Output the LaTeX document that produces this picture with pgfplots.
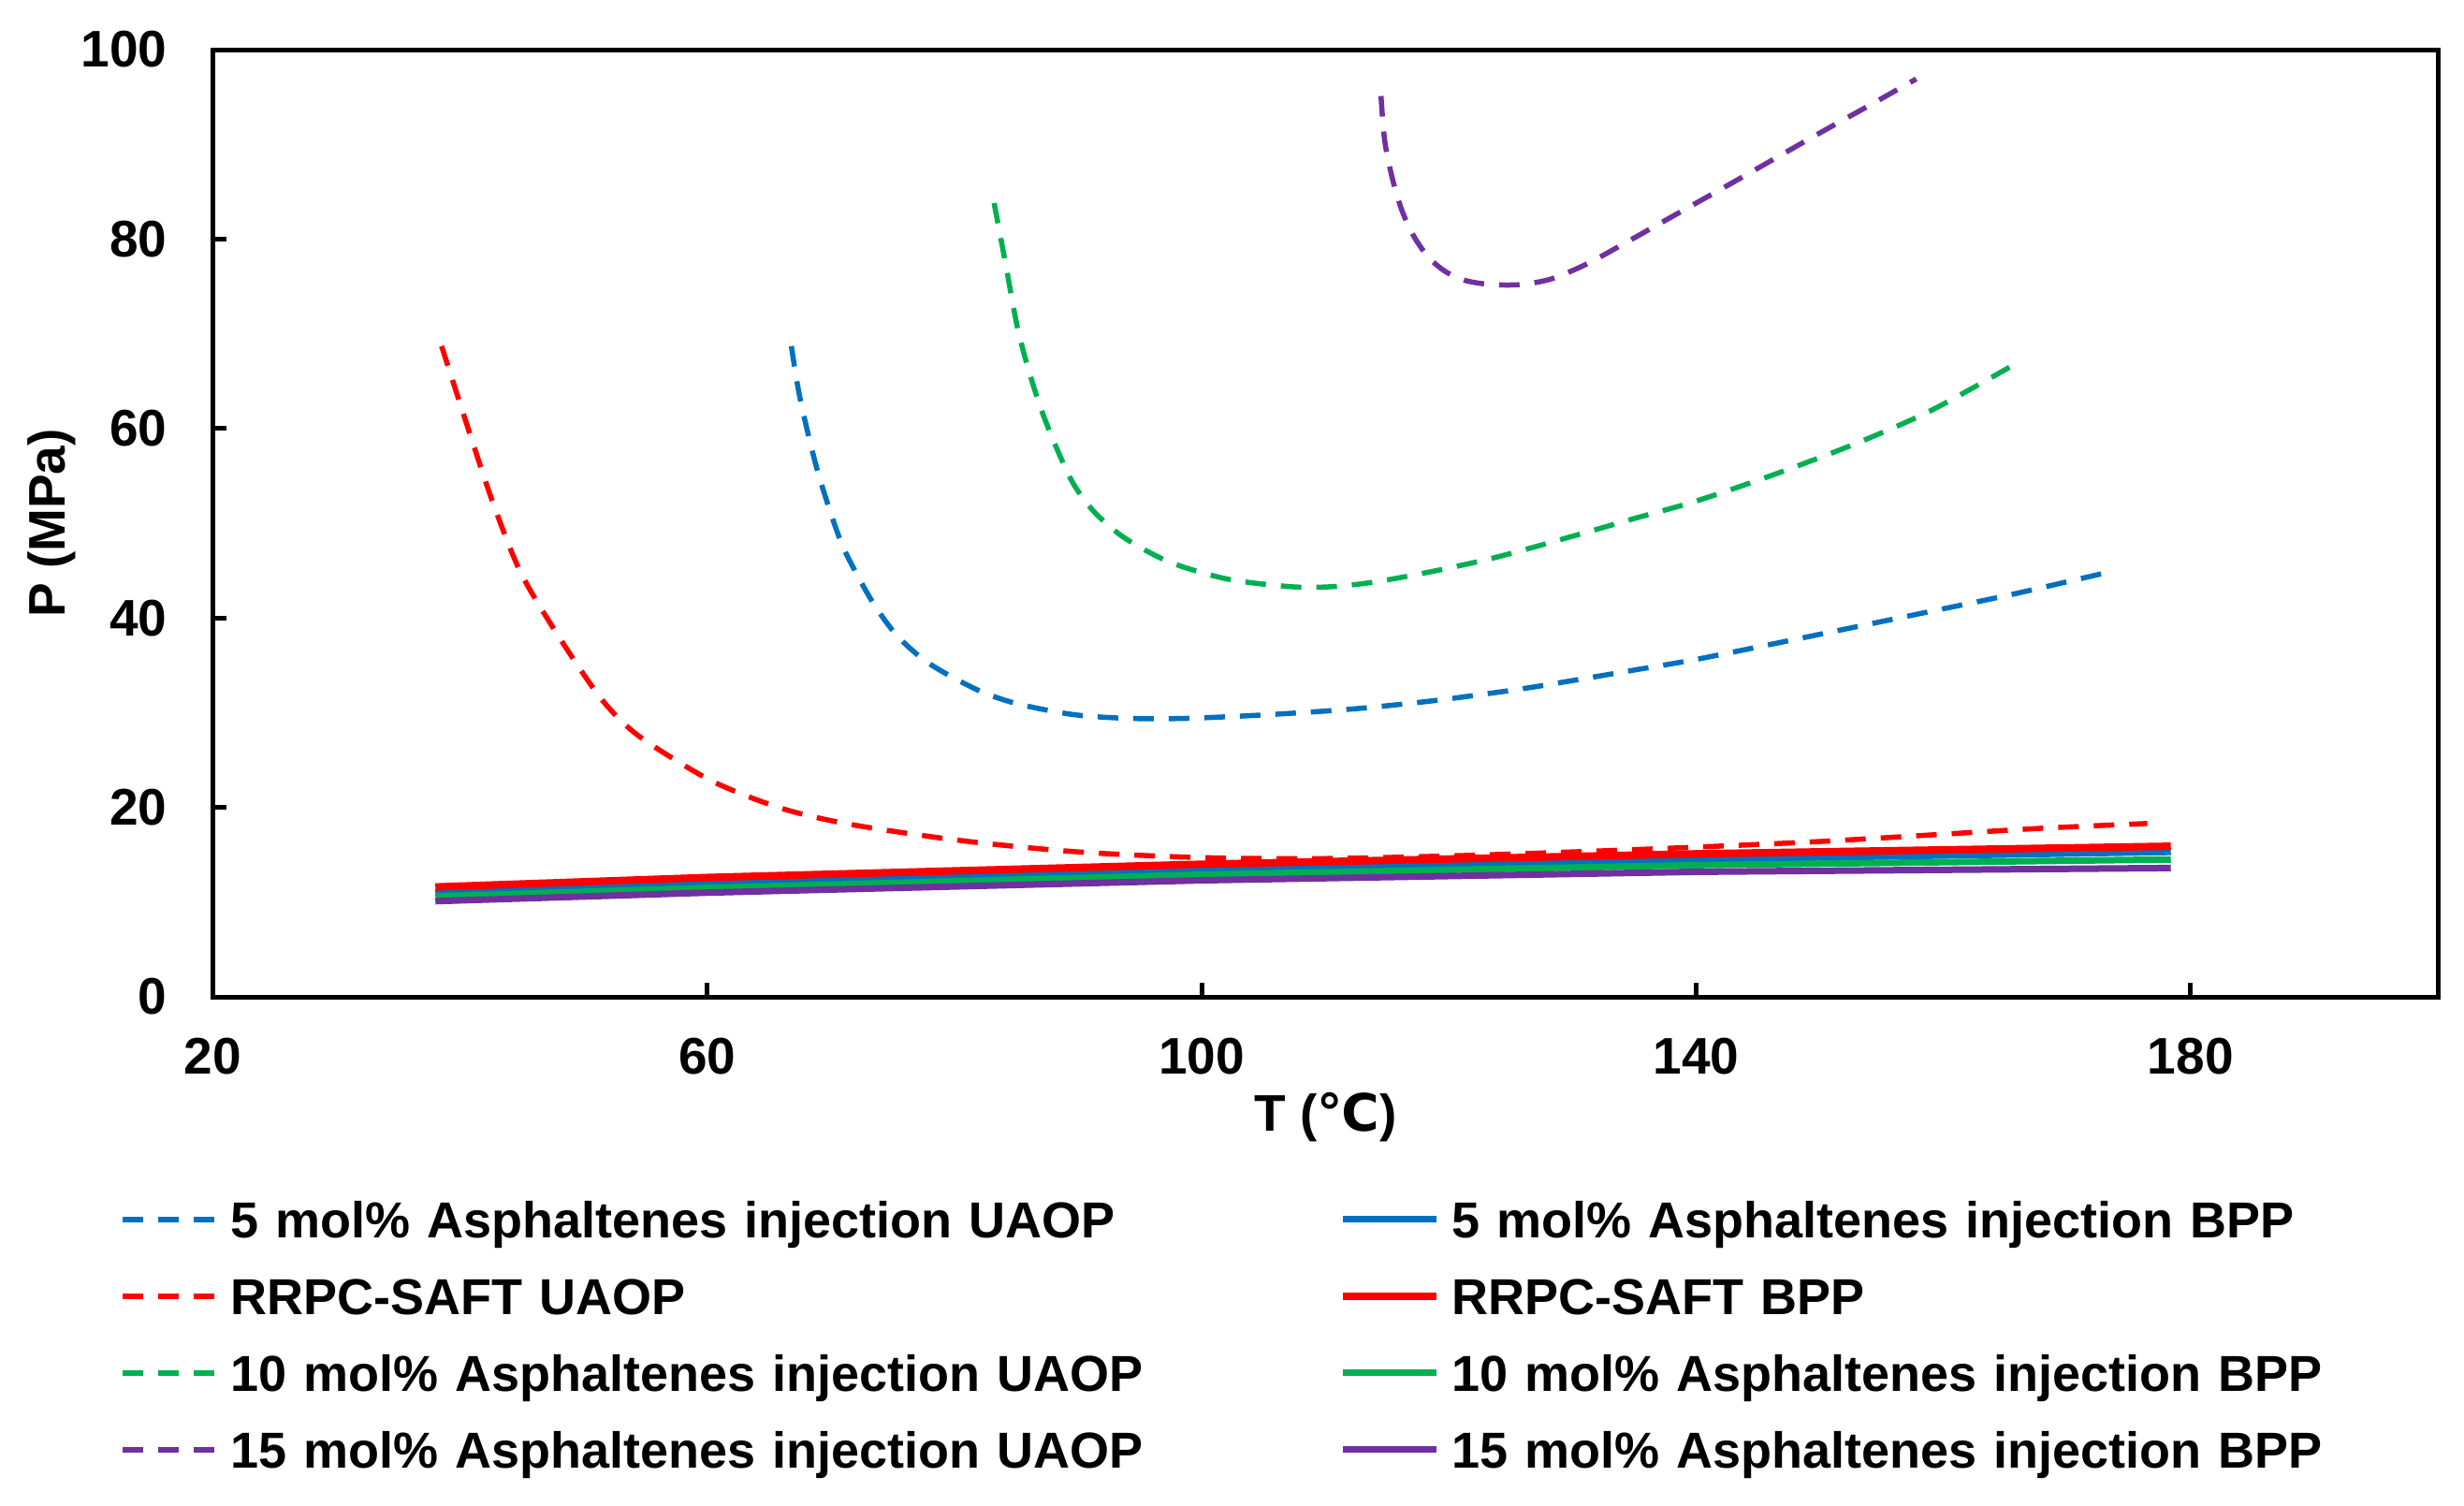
\documentclass[border=0pt]{standalone}
\usepackage{pgfplots}
\pgfplotsset{compat=1.18}
\usepackage{fontspec}
\setmainfont{Liberation Sans}
\newfontfamily\dejavu{DejaVu Sans}
\definecolor{cblue}{HTML}{0070C0}
\definecolor{cred}{HTML}{FF0000}
\definecolor{cgreen}{HTML}{00B050}
\definecolor{cpurple}{HTML}{7030A0}
\begin{document}
\begin{tikzpicture}
\begin{axis}[
 width=475.5pt, height=202.4pt, scale only axis,
 xmin=20, xmax=200, ymin=0, ymax=100,
 xtick={20,60,100,140,180}, ytick={0,20,40,60,80,100},
 tick align=inside, tick pos=left, major tick length=3pt,
 axis line style={line width=1pt},
 every tick/.style={black,line width=1pt},
 /pgf/number format/assume math mode=true,
 ticklabel style={font=\bfseries\fontsize{11}{13}\selectfont},
 xticklabel style={yshift=-5.3pt},
 yticklabel style={xshift=-6.3pt},
 xlabel={T ({\dejavu\bfseries ℃})},
 ylabel={P (MPa)},
 every axis x label/.style={at={(axis description cs:0.5,0)}, anchor=center, yshift=-25.8pt, font=\bfseries\fontsize{11}{13}\selectfont},
 every axis y label/.style={at={(axis description cs:0,0.5)}, xshift=-34.5pt, anchor=center, rotate=90, font=\bfseries\fontsize{11}{13}\selectfont},
 legend columns=2,
 legend cell align=left,
 legend style={at={(0,0)}, anchor=north west, xshift=-19.9pt, yshift=-43.4pt,
   draw=none, fill=none, inner sep=0pt, outer sep=0pt,
   column sep=2.6pt, row sep=6.1pt,
   font=\bfseries\fontsize{10.8}{13}\selectfont,
   nodes={inner sep=0pt, text height=8pt, text depth=2.3pt, text width=234.2pt, align=left}},
 legend image code/.code={\draw[#1] (0pt,1pt) -- (20pt,1pt);},
 dsh/.style={dash pattern=on 4.4pt off 3.2pt, line width=1.1pt, smooth},
 sld/.style={line width=1.4pt},
]
\coordinate (BL) at (rel axis cs:0,0);
\coordinate (TR) at (rel axis cs:1,1);

\addplot[cblue, dsh] coordinates {
(66.8,68.7) (67.5,63.2) (68.9,55.6) (70.7,48.4) (72.1,44.6) (73.6,41.2)
(75.3,38.2) (77.3,35.8) (79.2,34.2) (82.2,32.2) (85.2,30.9) (89.6,29.8)
(94.0,29.4) (98.8,29.4) (105.5,29.8) (112.3,30.4) (119.0,31.3) (125.8,32.5)
(130.5,33.5) (135,34.5) (139.9,35.6) (146,37.2) (152.7,39.0) (159,40.7)
(165.6,42.5) (173.9,45.0)};
\addlegendentry{5 mol\% Asphaltenes injection UAOP}

\addplot[cblue, sld] coordinates {(38,11.0) (60,12.0) (100,13.4) (140,14.5) (178.4,15.3)};
\addlegendentry{5 mol\% Asphaltenes injection BPP}

\addplot[cred, dsh] coordinates {
(38.5,68.7) (40.8,59.4) (42.7,52.0) (44.9,44.8) (47.8,38.4) (51.1,32.0)
(53.3,28.8) (55.6,26.5) (60.5,22.7) (66.0,19.9) (71.6,18.2) (80.5,16.5)
(90,15.3) (100,14.7) (110,14.6) (120.6,14.9) (130,15.3) (139.9,15.8)
(150,16.4) (159.1,17.1) (168,17.8) (176.5,18.3)};
\addlegendentry{RRPC-SAFT UAOP}

\addplot[cred, sld, line width=1.6pt] coordinates {(38,11.6) (60,12.6) (100,14.0) (140,15.1) (178.4,15.9)};
\addlegendentry{RRPC-SAFT BPP}

\addplot[cgreen, dsh] coordinates {
(83.2,83.8) (84.1,77.6) (85.1,70.6) (86.1,65.7) (87.1,61.7) (88.3,57.8)
(89.6,54.2) (91.3,51.2) (93.7,48.5) (97.4,45.9) (102.1,44.1) (107.2,43.3)
(110.5,43.3) (114.0,43.8) (119.0,45.0) (124.1,46.5) (130.2,48.7) (135,50.5)
(139.9,52.3) (146,55.0) (152.7,58.3) (159,61.9) (166.2,67.1)};
\addlegendentry{10 mol\% Asphaltenes injection UAOP}

\addplot[cgreen, sld] coordinates {(38,10.6) (60,11.5) (100,12.9) (140,13.9) (178.4,14.5)};
\addlegendentry{10 mol\% Asphaltenes injection BPP}

\addplot[cpurple, dsh] coordinates {
(114.5,95.1) (114.8,90.4) (115.4,86.5) (116.2,83.0) (117.2,80.2) (118.4,78.0)
(119.8,76.5) (121.4,75.6) (123.4,75.2) (125.8,75.2) (128.3,75.8) (131.2,77.4)
(134,79.4) (137,81.6) (140,83.8) (143,86.0) (146.5,88.6) (150,91.2)
(154,94.1) (157.8,96.9)};
\addlegendentry{15 mol\% Asphaltenes injection UAOP}

\addplot[cpurple, sld] coordinates {(38,10.1) (60,11.0) (100,12.3) (140,13.2) (178.4,13.6)};
\addlegendentry{15 mol\% Asphaltenes injection BPP}
\end{axis}
\pgfresetboundingbox
\path ([shift={(-45.5pt,-108.6pt)}]BL) rectangle ([shift={(5.6pt,10.6pt)}]TR);
\end{tikzpicture}
\end{document}
